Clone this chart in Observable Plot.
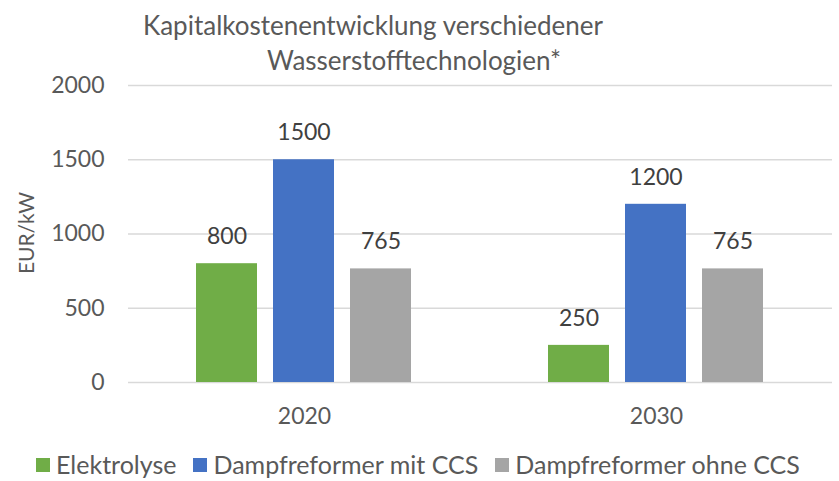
<!DOCTYPE html>
<html>
<head>
<meta charset="utf-8">
<script src="https://cdn.jsdelivr.net/npm/d3@7"></script>
<script src="https://cdn.jsdelivr.net/npm/@observablehq/plot@0.6"></script>
<style>
  body { margin: 0; background: white; }
  #wrap { position: relative; width: 839px; height: 481px; font-family: Lato, sans-serif; color: #595959; overflow: hidden; background: white; }
  .t { position: absolute; white-space: nowrap; font-size: 26px; transform: translateX(-50%); line-height: 1; }
  #ylab { position: absolute; left: 25px; top: 233px; font-size: 21px; transform: translate(-50%, -50%) rotate(-90deg); white-space: nowrap; z-index: 2; }
  #chart { position: absolute; left: 0; top: 70px; z-index: 1; }
  #legend { position: absolute; top: 452px; left: 36px; display: flex; font-size: 25px; align-items: center; line-height: 1; z-index: 2; }
  .li { display: flex; align-items: center; margin-right: 17px; }
  .sw { width: 14px; height: 14px; margin-right: 6px; }
</style>
</head>
<body>
<div id="wrap">
  <div class="t" style="left:373px; top:12px;">Kapitalkostenentwicklung verschiedener</div>
  <div class="t" style="left:414px; top:47px;">Wasserstofftechnologien*</div>
  <div id="chart"></div>
  <div id="ylab">EUR/kW</div>
  <div id="legend"></div>
</div>
<script>
const years = ["2020", "2030"];
const series = ["Elektrolyse", "Dampfreformer mit CCS", "Dampfreformer ohne CCS"];
const elektrolyse = [800, 250];
const mitCCS = [1500, 1200];
const ohneCCS = [765, 765];
const colors = ["#70AD47", "#4472C4", "#A5A5A5"];
const yTicks = [0, 500, 1000, 1500, 2000];

const valuesBySeries = [elektrolyse, mitCCS, ohneCCS];
const data = years.flatMap((yr, i) => series.map((s, j) => ({year: yr, series: s, value: valuesBySeries[j][i]})));

const chart = Plot.plot({
  width: 839,
  height: 370,
  marginTop: 15,
  marginBottom: 58,
  marginLeft: 127,
  marginRight: 7,
  style: {fontFamily: "Lato, sans-serif", fontSize: "23px", color: "#595959", background: "transparent", overflow: "visible"},
  fx: {domain: years, padding: 0, label: null, axis: "bottom", tickSize: 0, tickPadding: 25},
  x: {domain: series, paddingInner: 0.205, paddingOuter: 0.865, axis: null},
  y: {domain: [0, 2000], ticks: yTicks, tickFormat: d => String(d), label: null, tickSize: 0, tickPadding: 24},
  color: {domain: series, range: colors},
  marks: [
    Plot.ruleY(yTicks, {stroke: "#D9D9D9", strokeWidth: 1.3}),
    Plot.barY(data, {fx: "year", x: "series", y: "value", fill: "series"}),
    Plot.text(data, {fx: "year", x: "series", y: "value", text: d => String(d.value), dy: -27, fontSize: 23, fill: "#404040"})
  ]
});
document.getElementById("chart").appendChild(chart);

const legend = document.getElementById("legend");
series.forEach((s, i) => {
  const item = document.createElement("div");
  item.className = "li";
  const sw = document.createElement("div");
  sw.className = "sw";
  sw.style.background = colors[i];
  const label = document.createElement("span");
  label.textContent = s;
  item.appendChild(sw);
  item.appendChild(label);
  legend.appendChild(item);
});
</script>
</body>
</html>
